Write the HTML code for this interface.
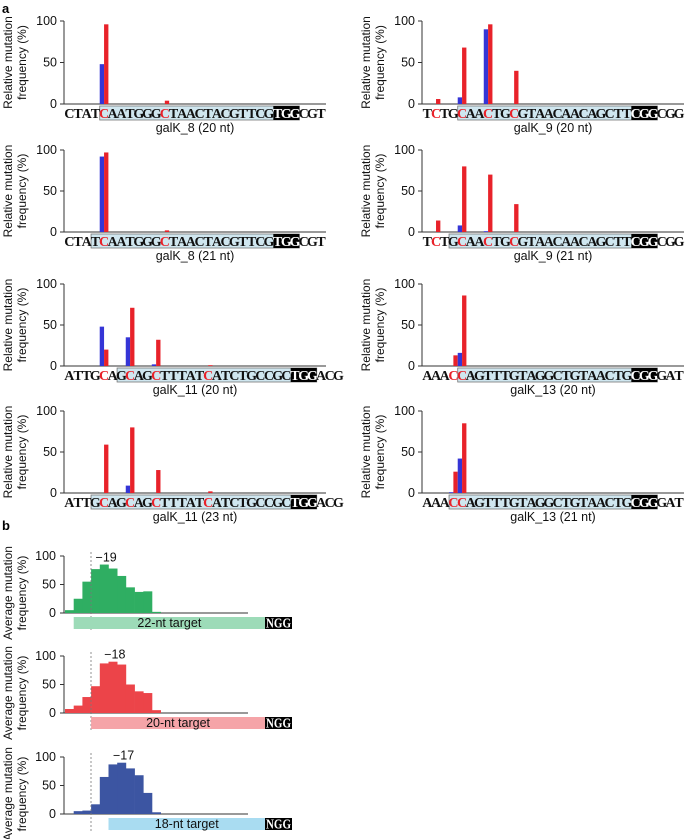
<!DOCTYPE html>
<html><head><meta charset="utf-8"><style>
html,body{margin:0;padding:0;background:#fff}
svg{display:block}
.tk{font-family:"Liberation Sans",sans-serif;font-size:12.5px;fill:#111}
.yt{font-family:"Liberation Sans",sans-serif;font-size:12px;fill:#111}
.sq{font-family:"Liberation Serif",serif;font-weight:bold;font-size:14px}
</style></head><body>
<svg id="fig" width="685" height="839" viewBox="0 0 685 839" xmlns="http://www.w3.org/2000/svg">
<text x="2" y="13" font-family="Liberation Sans" font-weight="bold" font-size="13">a</text>
<text x="2" y="530" font-family="Liberation Sans" font-weight="bold" font-size="13">b</text>
</svg>
<script>
// ---- Panel a data ----
const seqs = ["CTATCAATGGGCTAACTACGTTCGTGGCGT","CTATCAATGGGCTAACTACGTTCGTGGCGT","ATTGCAGCAGCTTTATCATCTGCCGCTGGACG","ATTGCAGCAGCTTTATCATCTGCCGCTGGACG",
 "TCTGCAACTGCGTAACAACAGCTTCGGCGG","TCTGCAACTGCGTAACAACAGCTTCGGCGG","AAACCAGTTTGTAGGCTGTAACTGCGGGAT","AAACCAGTTTGTAGGCTGTAACTGCGGGAT"];
const titles = ["galK_8 (20 nt)","galK_8 (21 nt)","galK_11 (20 nt)","galK_11 (23 nt)","galK_9 (20 nt)","galK_9 (21 nt)","galK_13 (20 nt)","galK_13 (21 nt)"];
const boxStart = [4,3,6,3,4,3,4,3];
const pamStart = [24,24,26,26,24,24,24,24];
const redPos = [[4,11],[4,11],[4,7,10,16],[4,7,10,16],[1,4,7,10],[1,4,7,10],[3,4],[3,4]];
const barPos = [[4,11],[4,11],[4,7,10,16],[4,7,10,16],[1,4,7,10],[1,4,7,10],[3,4],[3,4]];
const blueVals = [[48,0],[92,0],[48,35,2,0],[0,9,0,0],[0,8,90,0],[0,8,1,0],[0,16],[1,42]];
const redVals = [[96,4],[97,2],[20,71,32,1],[59,80,28,2],[6,68,96,40],[14,80,70,34],[13,86],[26,85]];
const yTicks = [0,50,100];
// ---- Panel b data ----
const bNames = ["22-nt target","20-nt target","18-nt target"];
const greenVals = [5,25,55,77,85,78,65,45,37,38,2];
const redBVals = [7,13,28,47,87,90,85,50,38,35,5];
const blueBVals = [0,5,6,17,65,87,90,80,68,37,3];
const peakLabels = ["\u221219","\u221218","\u221217"];
const peakIdx = [4,5,6];
const targetStartIdx = [1,3,5];

const svg=document.getElementById('fig');
const NS="http://www.w3.org/2000/svg";
function mk(t,a,p){const e=document.createElementNS(NS,t);for(const k in a)e.setAttribute(k,a[k]);(p||svg).appendChild(e);return e;}

const colX=[65,423], rowY0=[104,232,366,493], rowY100=[21,150,284,411];
const CW=8.68;
for(let c=0;c<8;c++){
  const col=c<4?0:1, row=c%4, x0=colX[col], y0=rowY0[row], y100=rowY100[row];
  const ys=v=>y0-(y0-y100)*v/100;
  const xs=i=>x0+i*CW;
  const g=mk('g',{});
  
  
  const lx=col?370:12;
  const yl=mk('text',{class:'yt','text-anchor':'middle',transform:`translate(${lx},${(y0+y100)/2}) rotate(-90)`},g);
  
  
  const t1=mk('tspan',{x:0,dy:0},yl);t1.textContent='Relative mutation';
  const t2=mk('tspan',{x:0,dy:14},yl);t2.textContent='frequency (%)';
  mk('line',{x1:x0-1,y1:y100,x2:x0-1,y2:y0,stroke:'#333','stroke-width':1},g);
  mk('line',{x1:x0-1,y1:y0,x2:x0+261,y2:y0,stroke:'#333','stroke-width':1},g);
  yTicks.forEach(v=>{
    mk('line',{x1:x0-5,y1:ys(v),x2:x0-1,y2:ys(v),stroke:'#333'},g);
    const t=mk('text',{x:x0-8,y:ys(v)+4,class:'tk','text-anchor':'end'},g);
    
    
    t.textContent=v;
  });
  barPos[c].forEach((p,k)=>{
    if(blueVals[c][k]>0){const b=mk('rect',{x:xs(p),y:ys(blueVals[c][k]),width:CW/2,height:y0-ys(blueVals[c][k]),fill:'#3535d6'},g);
      }
    if(redVals[c][k]>0){const b=mk('rect',{x:xs(p)+CW/2,y:ys(redVals[c][k]),width:CW/2,height:y0-ys(redVals[c][k]),fill:'#e8222a'},g);
      }
  });
  const s=seqs[c];
  const bx=mk('rect',{x:xs(boxStart[c]),y:y0+2,width:(pamStart[c]+3-boxStart[c])*CW,height:14,fill:'#cfe6ef',stroke:'#777','stroke-width':0.8},g);
  
  mk('rect',{x:xs(pamStart[c]),y:y0+2,width:3*CW,height:14,fill:'#000'},g);
  for(let i=0;i<s.length;i++){
    const inPam=i>=pamStart[c]&&i<pamStart[c]+3;
    const fill=redPos[c].includes(i)?'#e8222a':(inPam?'#fff':'#111');
    const t=mk('text',{x:xs(i)+CW/2,y:y0+14,class:'sq','text-anchor':'middle',fill:fill},g);
    t.textContent=s[i];
  }
  const tt=mk('text',{x:x0+130,y:y0+28,class:'tk','text-anchor':'middle'},g);
  
  tt.textContent=titles[c];
}
// Panel b
const bSeries=[greenVals,redBVals,blueBVals];
const bColors=['#2fae62','#ec4449','#3c55a2'];
const tColors=['#9ddbb8','#f5a4a8','#a9dcf1'];
const bY0=[613,713,814], bY100=[556,656,757];
const BX=65, BW=8.7;
for(let r=0;r<3;r++){
  const y0=bY0[r],y100=bY100[r];
  const ys=v=>y0-(y0-y100)*v/100;
  const xs=i=>BX+i*BW;
  const g=mk('g',{});
  
  
  const yl=mk('text',{class:'yt','text-anchor':'middle',transform:`translate(12,${y0-20}) rotate(-90)`},g);
  
  const t1=mk('tspan',{x:0,dy:0},yl);t1.textContent='Average mutation';
  const t2=mk('tspan',{x:0,dy:14},yl);t2.textContent='frequency (%)';
  mk('line',{x1:64,y1:y100,x2:64,y2:y0,stroke:'#333'},g);
  mk('line',{x1:64,y1:y0,x2:248,y2:y0,stroke:'#333'},g);
  yTicks.forEach(v=>{
    mk('line',{x1:60,y1:ys(v),x2:64,y2:ys(v),stroke:'#333'},g);
    const t=mk('text',{x:56,y:ys(v)+4,class:'tk','text-anchor':'end'},g);
    
    t.textContent=v;
  });
  bSeries[r].forEach((v,i)=>{
    if(v<=0)return;
    const b=mk('rect',{x:xs(i),y:ys(v),width:BW+0.3,height:y0-ys(v),fill:bColors[r]},g);
    
  });
  mk('line',{x1:91,y1:y100-4,x2:91,y2:y0+17,stroke:'#777','stroke-dasharray':'2,2','stroke-width':0.8},g);
  const pk=mk('text',{x:xs(peakIdx[r])+BW/2+2,y:ys(bSeries[r][peakIdx[r]])-3,class:'tk','text-anchor':'middle'},g);
  
  pk.textContent=peakLabels[r];
  const tx=xs(targetStartIdx[r]);
  const tb=mk('rect',{x:tx,y:y0+4,width:265-tx,height:12,fill:tColors[r]},g);
  
  const tl=mk('text',{x:(tx+265)/2,y:y0+14,class:'tk','text-anchor':'middle'},g);
  tl.textContent=bNames[r];
  mk('rect',{x:265,y:y0+4,width:27,height:12,fill:'#000'},g);
  const ng=mk('text',{x:278.5,y:y0+14.5,class:'sq','text-anchor':'middle',fill:'#fff','font-size':12,textLength:25,lengthAdjust:'spacingAndGlyphs'},g);
  
  ng.textContent='NGG';
}
</script>
</body></html>
